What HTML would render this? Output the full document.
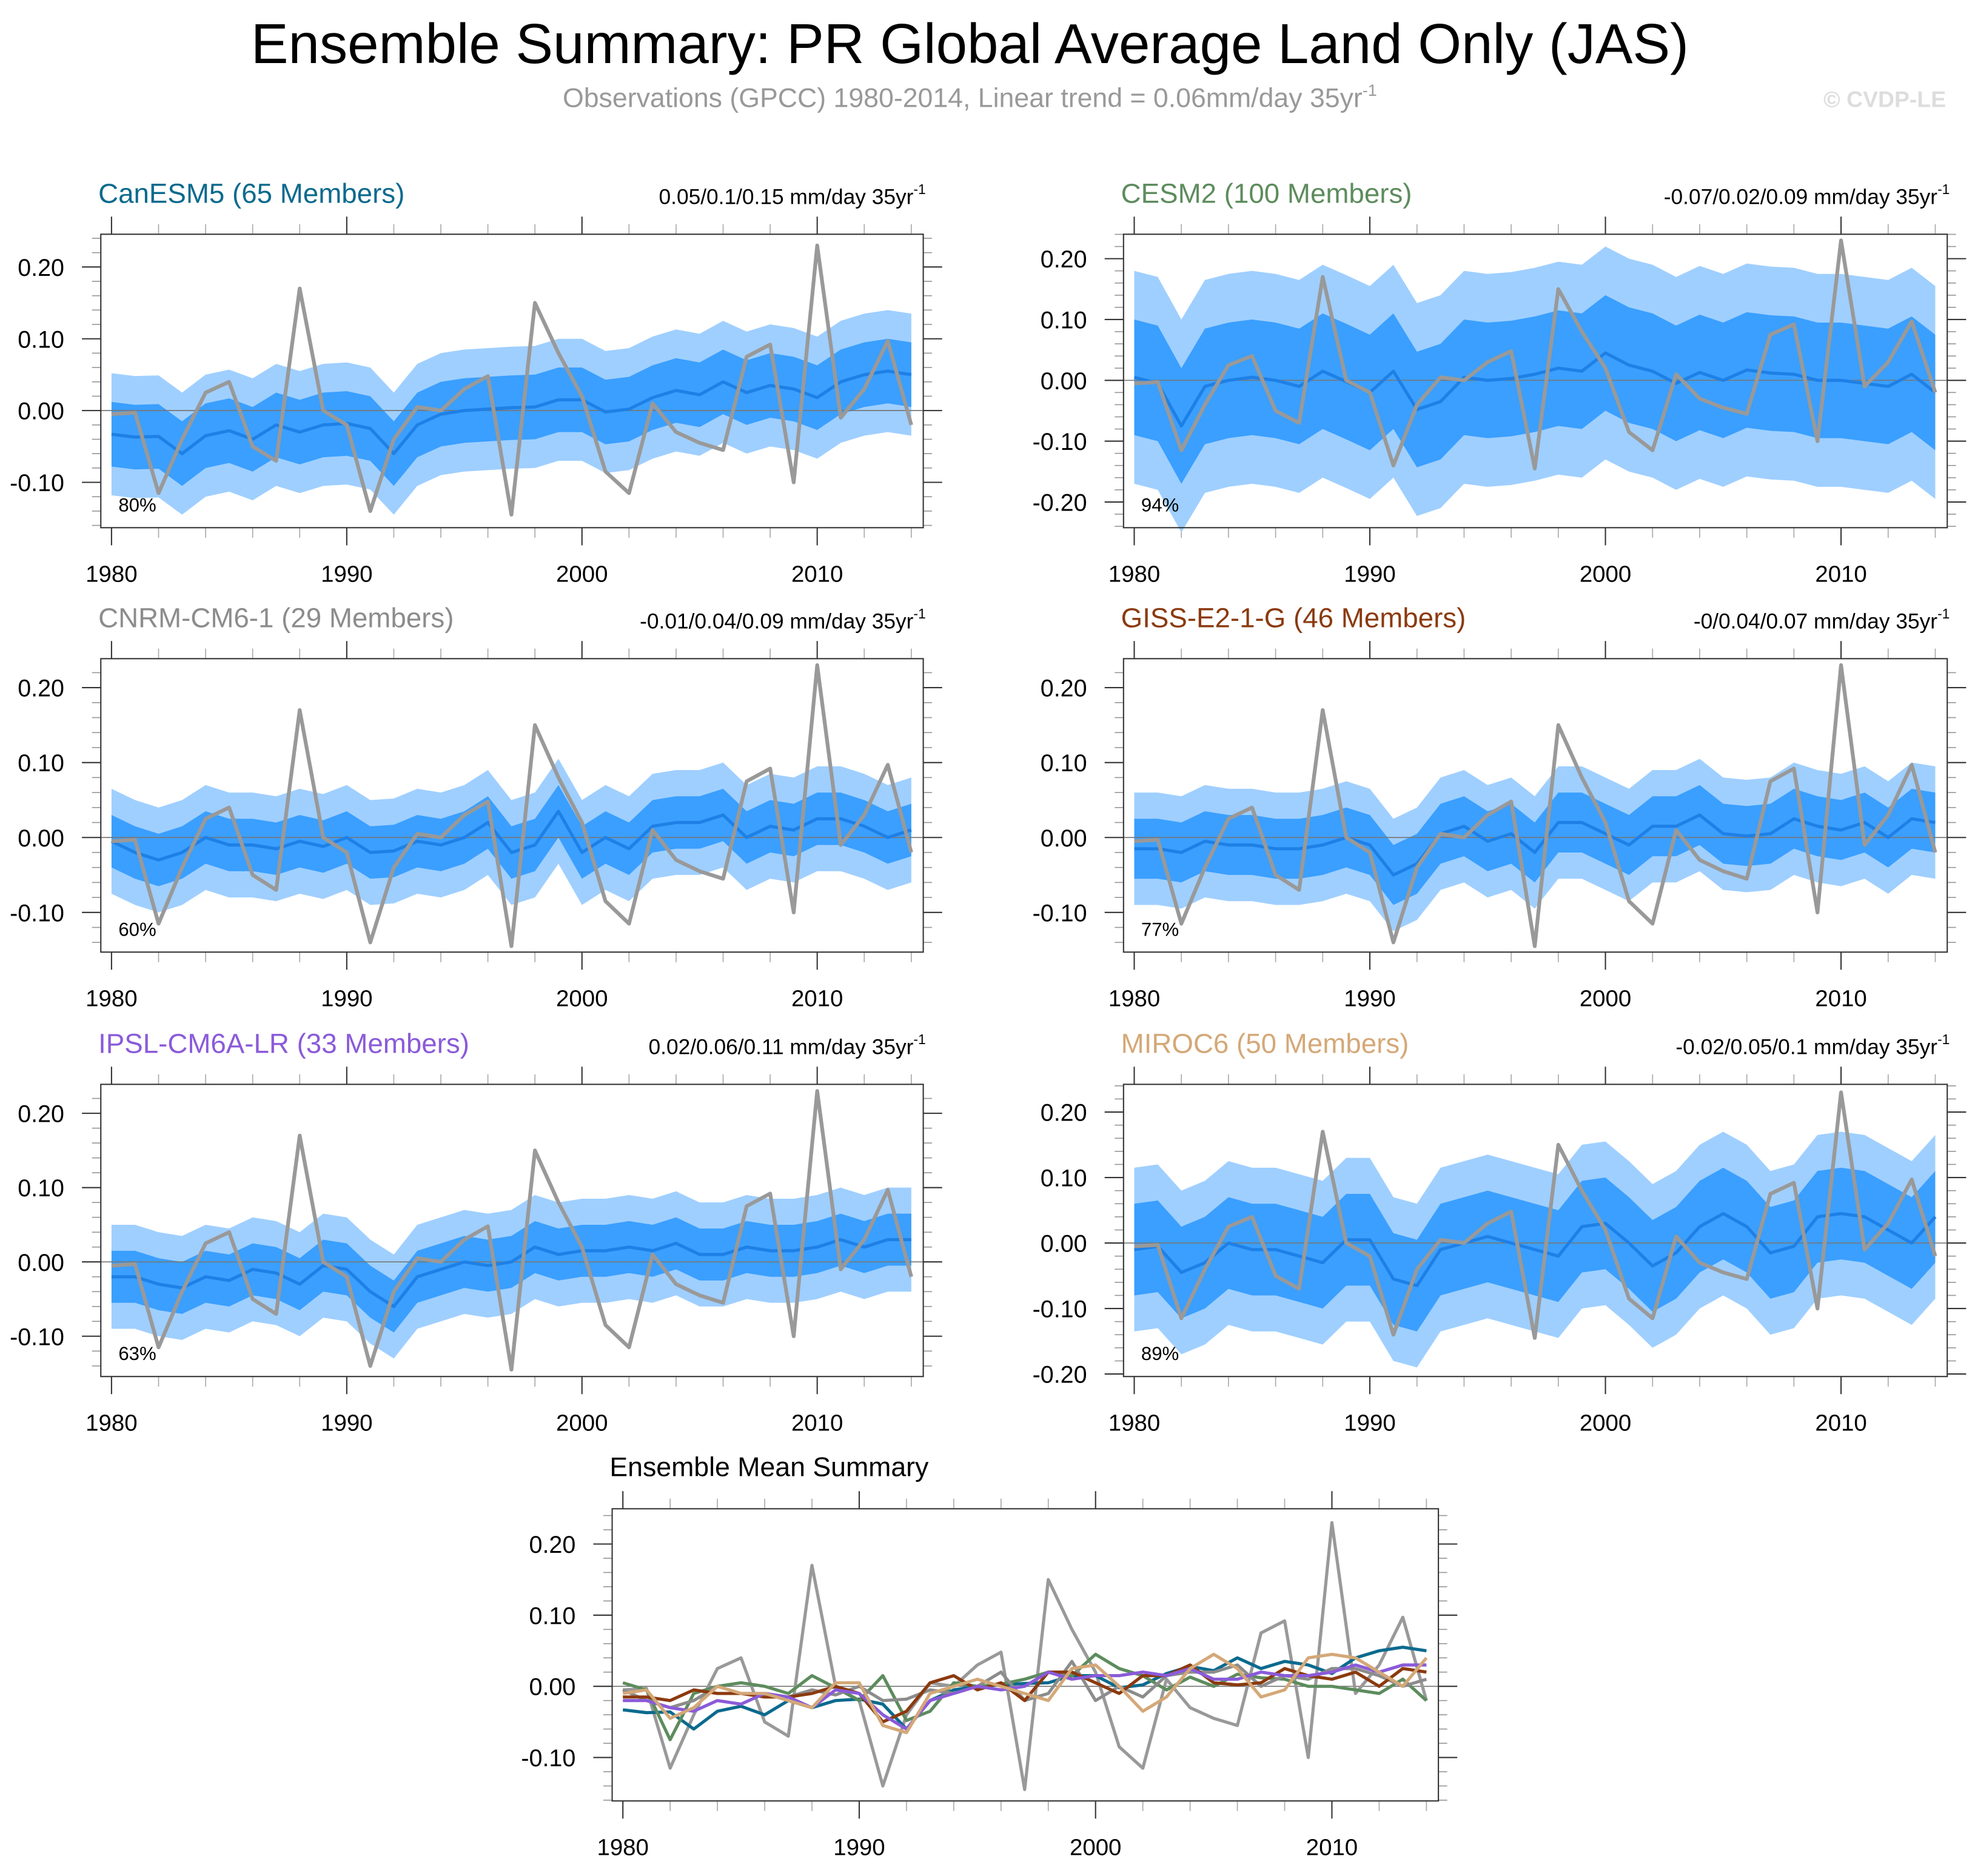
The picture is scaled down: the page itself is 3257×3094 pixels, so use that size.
<!DOCTYPE html>
<html><head><meta charset="utf-8"><style>
html,body{margin:0;padding:0;background:#fff}
svg{display:block}
text{font-family:"Liberation Sans",sans-serif}
</style></head><body>
<svg id="chart" xmlns="http://www.w3.org/2000/svg" width="3257" height="3094" viewBox="0 0 1568 1489.6">
<rect x="0" y="0" width="1568" height="1490" fill="#fff"/>
<text x="770" y="50" font-size="44.5" text-anchor="middle">Ensemble Summary: PR Global Average Land Only (JAS)</text>
<text x="770" y="85" font-size="21.5" fill="#999" text-anchor="middle">Observations (GPCC) 1980-2014, Linear trend = 0.06mm/day 35yr<tspan dy="-9" font-size="13">-1</tspan></text>
<text x="1545" y="85" font-size="18" fill="#ddd" font-weight="bold" text-anchor="end">© CVDP-LE</text>
<g id="plots"></g>
</svg>
<script>
const years = [];
for (let y = 1980; y <= 2014; y++) years.push(y);
const obs = [-0.005,-0.003,-0.115,-0.04,0.025,0.04,-0.05,-0.07,0.17,0.0,-0.02,-0.14,-0.04,0.005,0.0,0.03,0.048,-0.145,0.15,0.08,0.02,-0.085,-0.115,0.01,-0.03,-0.045,-0.055,0.075,0.092,-0.1,0.23,-0.01,0.03,0.097,-0.02];
const canMean = [-0.033,-0.037,-0.036,-0.06,-0.035,-0.028,-0.04,-0.02,-0.03,-0.02,-0.018,-0.025,-0.06,-0.02,-0.005,0.0,0.002,0.004,0.005,0.015,0.015,-0.002,0.002,0.018,0.028,0.022,0.04,0.025,0.035,0.03,0.018,0.04,0.05,0.055,0.05];
const cesmMean = [0.005,-0.005,-0.075,-0.01,0.0,0.005,0.0,-0.01,0.015,-0.002,-0.02,0.015,-0.048,-0.035,0.005,0.0,0.003,0.01,0.02,0.015,0.045,0.025,0.015,-0.005,0.013,0.0,0.017,0.012,0.01,0.0,0.0,-0.005,-0.01,0.01,-0.02];
const cnrmMean = [-0.005,-0.02,-0.03,-0.02,0.0,-0.01,-0.01,-0.015,-0.005,-0.012,0.0,-0.02,-0.018,-0.005,-0.01,0.0,0.02,-0.02,-0.01,0.035,-0.02,0.0,-0.015,0.015,0.02,0.02,0.03,0.0,0.015,0.01,0.025,0.025,0.015,0.0,0.01];
const gissMean = [-0.015,-0.015,-0.02,-0.005,-0.01,-0.01,-0.015,-0.015,-0.01,0.0,-0.01,-0.05,-0.035,0.005,0.015,-0.005,0.005,-0.02,0.02,0.02,0.005,-0.01,0.015,0.015,0.03,0.005,0.002,0.005,0.025,0.015,0.01,0.02,0.0,0.025,0.02];
const ipslMean = [-0.02,-0.02,-0.03,-0.035,-0.02,-0.025,-0.01,-0.015,-0.03,-0.005,-0.01,-0.04,-0.06,-0.02,-0.01,0.0,-0.005,0.0,0.02,0.01,0.015,0.015,0.02,0.015,0.025,0.01,0.01,0.02,0.015,0.015,0.02,0.03,0.02,0.03,0.03];
const mirocMean = [-0.01,-0.005,-0.045,-0.03,0.0,-0.01,-0.01,-0.02,-0.03,0.005,0.005,-0.055,-0.065,-0.01,0.0,0.01,0.0,-0.01,-0.02,0.025,0.03,0.0,-0.035,-0.015,0.025,0.045,0.025,-0.015,-0.005,0.04,0.045,0.04,0.02,0.0,0.04];
const innerSpread = [0.045,0.095,0.035,0.04,0.035,0.07];
const outerSpread = [0.085,0.175,0.07,0.075,0.07,0.125];
const modelNames = ["CanESM5 (65 Members)","CESM2 (100 Members)","CNRM-CM6-1 (29 Members)","GISS-E2-1-G (46 Members)","IPSL-CM6A-LR (33 Members)","MIROC6 (50 Members)"];
const trendLabels = ["0.05/0.1/0.15 mm/day 35yr","-0.07/0.02/0.09 mm/day 35yr","-0.01/0.04/0.09 mm/day 35yr","-0/0.04/0.07 mm/day 35yr","0.02/0.06/0.11 mm/day 35yr","-0.02/0.05/0.1 mm/day 35yr"];
const pctLabels = ["80%","94%","60%","77%","63%","89%"];
const yTickSets = [[-0.1,0,0.1,0.2],[-0.2,-0.1,0,0.1,0.2],[-0.1,0,0.1,0.2],[-0.1,0,0.1,0.2],[-0.1,0,0.1,0.2],[-0.2,-0.1,0,0.1,0.2]];
const xTicks = [1980,1990,2000,2010];
const means = [canMean,cesmMean,cnrmMean,gissMean,ipslMean,mirocMean];
const colors = ["#0b6a8e","#5d8c5d","#8c8c8c","#8b3a0f","#8a5bd9","#d4a878"];

const NS = "http://www.w3.org/2000/svg";
const root = document.getElementById("plots");
function el(tag, attrs, parent){const e=document.createElementNS(NS,tag);for(const k in attrs)e.setAttribute(k,attrs[k]);(parent||root).appendChild(e);return e;}

// layout: [x0,x1,y0,y1,zeroY,pxPerUnit]
const layouts = [
 [80,733,186,419,326,570],
 [892,1546,186,419,302,483],
 [80,733,523,756,665,595],
 [892,1546,523,756,665,595],
 [80,733,861,1093,1002,590],
 [892,1546,861,1093,987,520]
];
function fmt(v){return v.toFixed(2);}

function drawAxes(g, L, yticks){
  const [x0,x1,y0,y1,zy,k]=L;
  const xs = yr => x0+8.5 + (yr-1980)*((x1-x0-18)/34);
  const ys = v => zy - v*k;
  for(let yr=1980; yr<=2014; yr+=2){
    const major = (yr%10===0);
    const len = major?14:8;
    const X=xs(yr);
    el("line",{x1:X,x2:X,y1:y1,y2:y1+len,stroke:major?"#333":"#aaa","stroke-width":major?1:0.8},g);
    el("line",{x1:X,x2:X,y1:y0,y2:y0-len,stroke:major?"#333":"#aaa","stroke-width":major?1:0.8},g);
  }
  xTicks.forEach(yr=>{
    const t=el("text",{x:xs(yr),y:y1+43,"font-size":18.5,"text-anchor":"middle"},g);t.textContent=yr;
    
    
  });
  const vmin=-(y1-zy)/k, vmax=(zy-y0)/k;
  for(let i=Math.ceil(vmin/0.02-1e-9); i*0.02<=vmax+1e-9; i++){
    const v=i*0.02, Y=ys(v);
    if(Y<y0-0.1||Y>y1+0.1)continue;
    const major=(Math.abs(i%5)===0);
    const len=major?15:7;
    el("line",{x1:x0,x2:x0-len,y1:Y,y2:Y,stroke:major?"#333":"#999","stroke-width":major?1:0.8},g);
    el("line",{x1:x1,x2:x1+len,y1:Y,y2:Y,stroke:major?"#333":"#999","stroke-width":major?1:0.8},g);
  }
  yticks.forEach(v=>{
    const t=el("text",{x:x0-29,y:ys(v)+7,"font-size":19,"text-anchor":"end"},g);t.textContent=fmt(v);
    
    
  });
  return {xs,ys};
}
function band(g, xs, ys, lo, hi, fill, name){
  let d="M"+years.map((y,i)=>xs(y)+","+ys(hi[i])).join(" L");
  d+=" L"+years.slice().reverse().map((y,j)=>{const i=years.length-1-j;return xs(y)+","+ys(lo[i]);}).join(" L")+"Z";
  const p=el("path",{d,fill},g);
  
  
}
function line(g, xs, ys, vals, color, w, name){
  const p=el("polyline",{points:years.map((y,i)=>xs(y)+","+ys(vals[i])).join(" "),fill:"none",stroke:color,"stroke-width":w,"stroke-linejoin":"round"},g);
  
  
}

layouts.forEach((L,m)=>{
  const g=el("g",{});
  
  
  const [x0,x1,y0,y1]=L;
  const {xs,ys}=drawAxes(g,L,yTickSets[m]);
  const mean=means[m];
  band(g,xs,ys,mean.map(v=>v-outerSpread[m]),mean.map(v=>v+outerSpread[m]),"#9fcfff","outer-spread-band");
  band(g,xs,ys,mean.map(v=>v-innerSpread[m]),mean.map(v=>v+innerSpread[m]),"#3a9fff","inner-spread-band");
  el("line",{x1:x0,x2:x1,y1:ys(0),y2:ys(0),stroke:"#777","stroke-width":0.8},g);
  line(g,xs,ys,mean,"#1e80e6",2.5,"ensemble-mean-line");
  line(g,xs,ys,obs,"#999",3,"observations-line");
  el("rect",{x:x0,y:y0,width:x1-x0,height:y1-y0,fill:"none",stroke:"#333","stroke-width":1},g);
  const t=el("text",{x:x0-2,y:y0-25,"font-size":22,fill:colors[m]},g);t.textContent=modelNames[m];
  
  
  const tr=el("text",{x:x1+2,y:y0-24,"font-size":17,"text-anchor":"end"},g);
  tr.innerHTML=trendLabels[m]+'<tspan dy="-8" font-size="11">-1</tspan>';
  
  
  const pc=el("text",{x:x0+14,y:y1-13,"font-size":15},g);pc.textContent=pctLabels[m];
  
  
});

(function(){
  const L=[486,1142,1198,1430,1339,565];
  const g=el("g",{});
  
  
  const {xs,ys}=drawAxes(g,L,[-0.1,0,0.1,0.2]);
  el("line",{x1:L[0],x2:L[1],y1:ys(0),y2:ys(0),stroke:"#777","stroke-width":0.8},g);
  line(g,xs,ys,obs,"#999",2.5,"observations-line");
  means.forEach((mv,m)=>line(g,xs,ys,mv,colors[m],2.5,"model-mean-line"));
  el("rect",{x:L[0],y:L[2],width:L[1]-L[0],height:L[3]-L[2],fill:"none",stroke:"#333","stroke-width":1},g);
  const t=el("text",{x:484,y:1172,"font-size":21.5},g);t.textContent="Ensemble Mean Summary";
  
  
})();
</script>
</body></html>
